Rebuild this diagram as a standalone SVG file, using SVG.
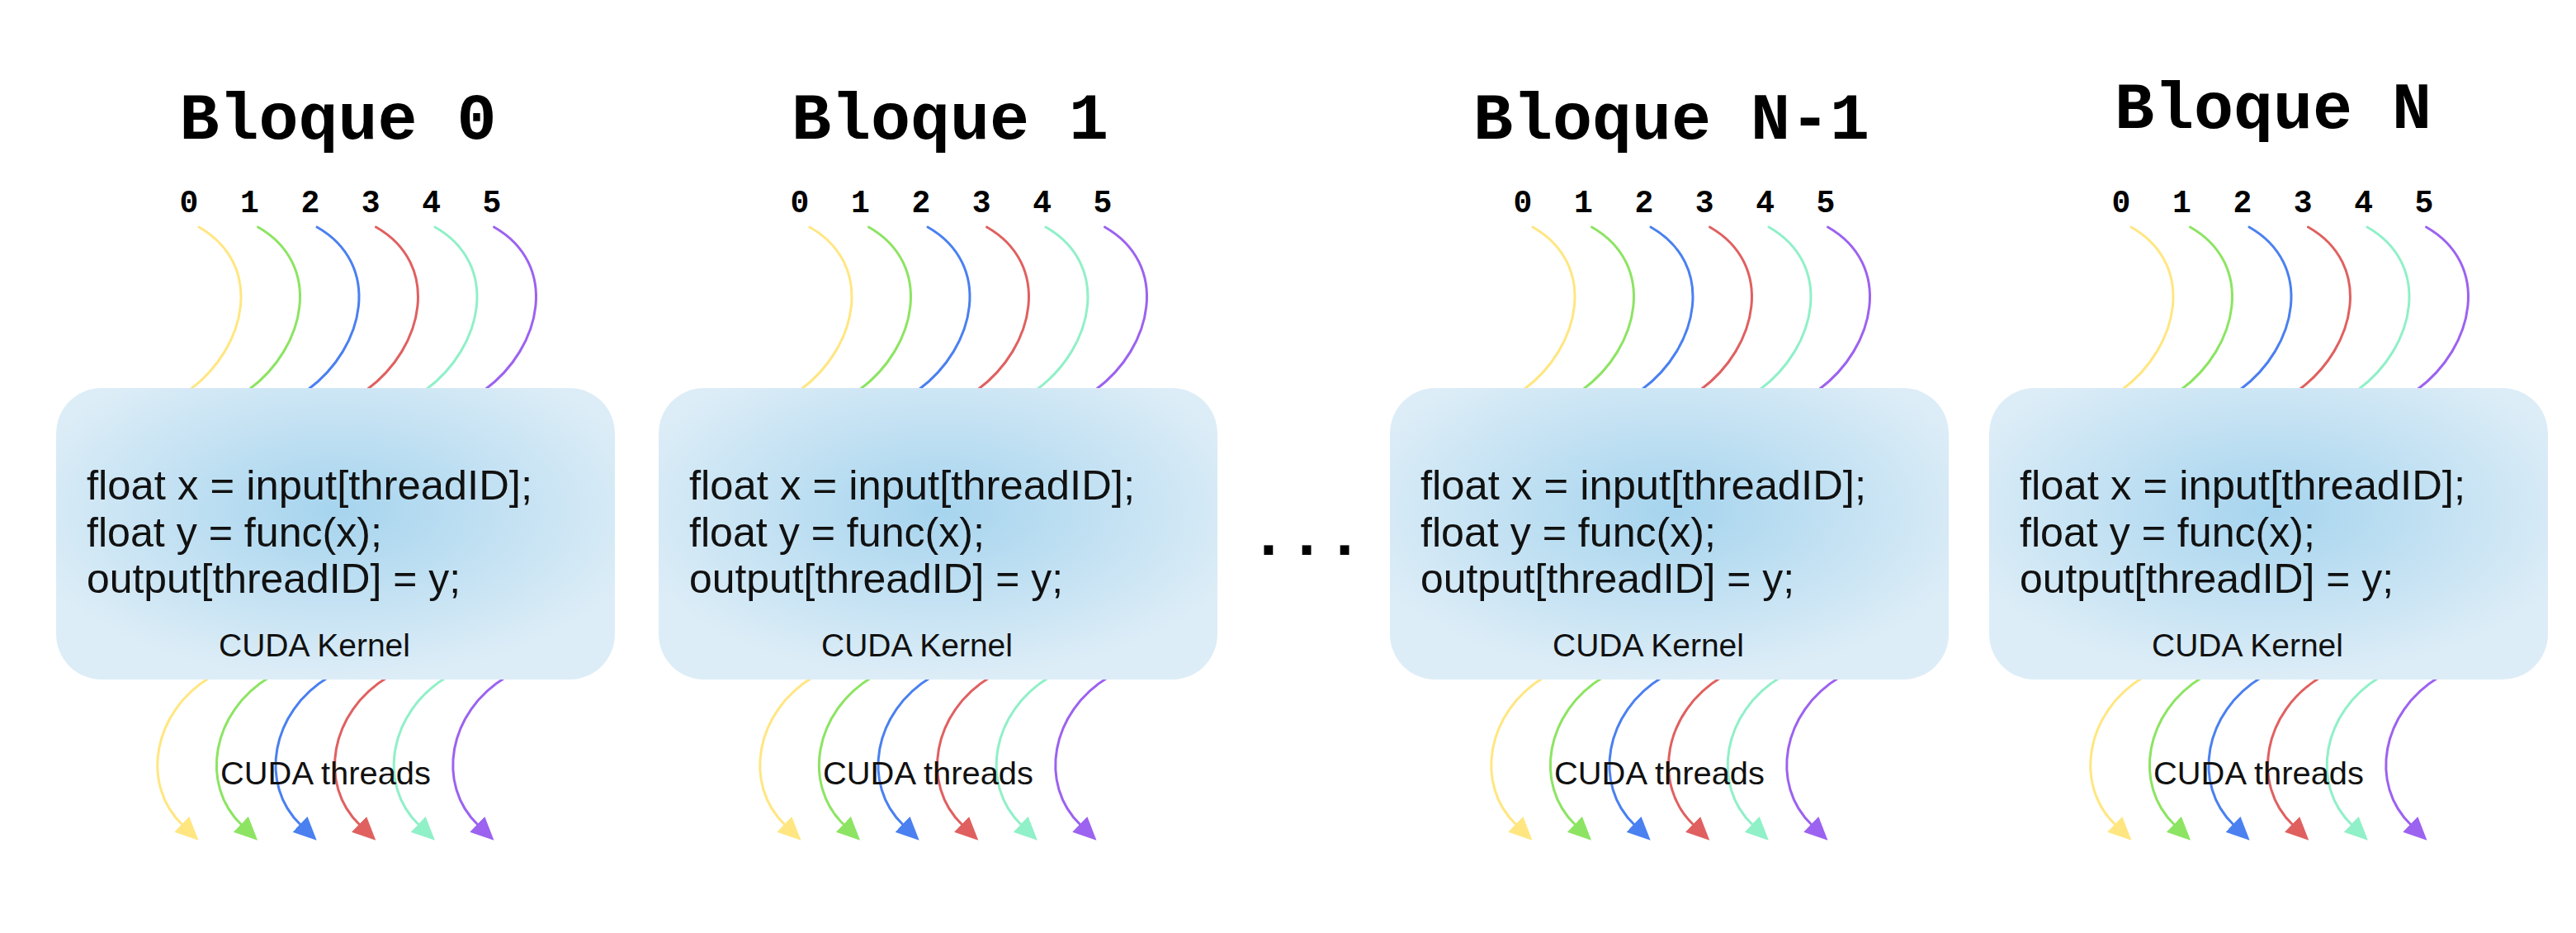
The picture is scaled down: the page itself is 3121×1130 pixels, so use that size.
<svg xmlns="http://www.w3.org/2000/svg" width="3121" height="1130" viewBox="0 0 3121 1130">
<defs>
<style>
.title{font-family:"Liberation Mono","Courier New",monospace;font-weight:bold;font-size:80px;fill:#000;text-anchor:middle}
.num{font-family:"Liberation Mono","Courier New",monospace;font-weight:bold;font-size:38px;fill:#000;text-anchor:middle}
.code{font-family:"Liberation Sans",Arial,sans-serif;font-size:50px;fill:#111}
.lbl{font-family:"Liberation Sans",Arial,sans-serif;font-size:39px;fill:#111;text-anchor:middle}
.box{fill:url(#boxGrad)}
.th{fill:none;stroke-width:3;stroke-linecap:round}
.c0{stroke:#ffe680}.c1{stroke:#8ce462}.c2{stroke:#4a80f0}.c3{stroke:#e06060}.c4{stroke:#90f0c8}.c5{stroke:#9c62f0}
.a0{marker-end:url(#m0)}.a1{marker-end:url(#m1)}.a2{marker-end:url(#m2)}.a3{marker-end:url(#m3)}.a4{marker-end:url(#m4)}.a5{marker-end:url(#m5)}
</style>
<radialGradient id="boxGrad" cx="0.5" cy="0.42" r="0.58">
<stop offset="0" stop-color="#a6d4ee"/>
<stop offset="1" stop-color="#ddedf7"/>
</radialGradient>
<marker id="m0" markerUnits="userSpaceOnUse" viewBox="0 0 30 28" markerWidth="30" markerHeight="28" refX="1" refY="13" orient="auto"><path d="M0,0 L28,13 L0,26 Z" fill="#ffe680"/></marker>
<marker id="m1" markerUnits="userSpaceOnUse" viewBox="0 0 30 28" markerWidth="30" markerHeight="28" refX="1" refY="13" orient="auto"><path d="M0,0 L28,13 L0,26 Z" fill="#8ce462"/></marker>
<marker id="m2" markerUnits="userSpaceOnUse" viewBox="0 0 30 28" markerWidth="30" markerHeight="28" refX="1" refY="13" orient="auto"><path d="M0,0 L28,13 L0,26 Z" fill="#4a80f0"/></marker>
<marker id="m3" markerUnits="userSpaceOnUse" viewBox="0 0 30 28" markerWidth="30" markerHeight="28" refX="1" refY="13" orient="auto"><path d="M0,0 L28,13 L0,26 Z" fill="#e06060"/></marker>
<marker id="m4" markerUnits="userSpaceOnUse" viewBox="0 0 30 28" markerWidth="30" markerHeight="28" refX="1" refY="13" orient="auto"><path d="M0,0 L28,13 L0,26 Z" fill="#90f0c8"/></marker>
<marker id="m5" markerUnits="userSpaceOnUse" viewBox="0 0 30 28" markerWidth="30" markerHeight="28" refX="1" refY="13" orient="auto"><path d="M0,0 L28,13 L0,26 Z" fill="#9c62f0"/></marker>
</defs>
<rect width="3121" height="1130" fill="#fff"/>

<g id="connectors">
  <g id="threads-in-0">
    <path class="th c0" d="M241,275 C320,320 300,420 230,472"/>
    <path class="th c1" transform="translate(71.5,0)" d="M241,275 C320,320 300,420 230,472"/>
    <path class="th c2" transform="translate(143,0)" d="M241,275 C320,320 300,420 230,472"/>
    <path class="th c3" transform="translate(214.5,0)" d="M241,275 C320,320 300,420 230,472"/>
    <path class="th c4" transform="translate(286,0)" d="M241,275 C320,320 300,420 230,472"/>
    <path class="th c5" transform="translate(357.5,0)" d="M241,275 C320,320 300,420 230,472"/>
  </g>
  <g id="threads-out-0">
    <path class="th c0 a0" d="M255,820 C185,862 170,950 221,999"/>
    <path class="th c1 a1" transform="translate(71.6,0)" d="M255,820 C185,862 170,950 221,999"/>
    <path class="th c2 a2" transform="translate(143.2,0)" d="M255,820 C185,862 170,950 221,999"/>
    <path class="th c3 a3" transform="translate(214.8,0)" d="M255,820 C185,862 170,950 221,999"/>
    <path class="th c4 a4" transform="translate(286.4,0)" d="M255,820 C185,862 170,950 221,999"/>
    <path class="th c5 a5" transform="translate(358,0)" d="M255,820 C185,862 170,950 221,999"/>
  </g>
  <g id="threads-in-1" transform="translate(740,0)">
    <path class="th c0" d="M241,275 C320,320 300,420 230,472"/>
    <path class="th c1" transform="translate(71.5,0)" d="M241,275 C320,320 300,420 230,472"/>
    <path class="th c2" transform="translate(143,0)" d="M241,275 C320,320 300,420 230,472"/>
    <path class="th c3" transform="translate(214.5,0)" d="M241,275 C320,320 300,420 230,472"/>
    <path class="th c4" transform="translate(286,0)" d="M241,275 C320,320 300,420 230,472"/>
    <path class="th c5" transform="translate(357.5,0)" d="M241,275 C320,320 300,420 230,472"/>
  </g>
  <g id="threads-out-1" transform="translate(730,0)">
    <path class="th c0 a0" d="M255,820 C185,862 170,950 221,999"/>
    <path class="th c1 a1" transform="translate(71.6,0)" d="M255,820 C185,862 170,950 221,999"/>
    <path class="th c2 a2" transform="translate(143.2,0)" d="M255,820 C185,862 170,950 221,999"/>
    <path class="th c3 a3" transform="translate(214.8,0)" d="M255,820 C185,862 170,950 221,999"/>
    <path class="th c4 a4" transform="translate(286.4,0)" d="M255,820 C185,862 170,950 221,999"/>
    <path class="th c5 a5" transform="translate(358,0)" d="M255,820 C185,862 170,950 221,999"/>
  </g>
  <g id="threads-in-2" transform="translate(1616,0)">
    <path class="th c0" d="M241,275 C320,320 300,420 230,472"/>
    <path class="th c1" transform="translate(71.5,0)" d="M241,275 C320,320 300,420 230,472"/>
    <path class="th c2" transform="translate(143,0)" d="M241,275 C320,320 300,420 230,472"/>
    <path class="th c3" transform="translate(214.5,0)" d="M241,275 C320,320 300,420 230,472"/>
    <path class="th c4" transform="translate(286,0)" d="M241,275 C320,320 300,420 230,472"/>
    <path class="th c5" transform="translate(357.5,0)" d="M241,275 C320,320 300,420 230,472"/>
  </g>
  <g id="threads-out-2" transform="translate(1616,0)">
    <path class="th c0 a0" d="M255,820 C185,862 170,950 221,999"/>
    <path class="th c1 a1" transform="translate(71.6,0)" d="M255,820 C185,862 170,950 221,999"/>
    <path class="th c2 a2" transform="translate(143.2,0)" d="M255,820 C185,862 170,950 221,999"/>
    <path class="th c3 a3" transform="translate(214.8,0)" d="M255,820 C185,862 170,950 221,999"/>
    <path class="th c4 a4" transform="translate(286.4,0)" d="M255,820 C185,862 170,950 221,999"/>
    <path class="th c5 a5" transform="translate(358,0)" d="M255,820 C185,862 170,950 221,999"/>
  </g>
  <g id="threads-in-3" transform="translate(2341,0)">
    <path class="th c0" d="M241,275 C320,320 300,420 230,472"/>
    <path class="th c1" transform="translate(71.5,0)" d="M241,275 C320,320 300,420 230,472"/>
    <path class="th c2" transform="translate(143,0)" d="M241,275 C320,320 300,420 230,472"/>
    <path class="th c3" transform="translate(214.5,0)" d="M241,275 C320,320 300,420 230,472"/>
    <path class="th c4" transform="translate(286,0)" d="M241,275 C320,320 300,420 230,472"/>
    <path class="th c5" transform="translate(357.5,0)" d="M241,275 C320,320 300,420 230,472"/>
  </g>
  <g id="threads-out-3" transform="translate(2342,0)">
    <path class="th c0 a0" d="M255,820 C185,862 170,950 221,999"/>
    <path class="th c1 a1" transform="translate(71.6,0)" d="M255,820 C185,862 170,950 221,999"/>
    <path class="th c2 a2" transform="translate(143.2,0)" d="M255,820 C185,862 170,950 221,999"/>
    <path class="th c3 a3" transform="translate(214.8,0)" d="M255,820 C185,862 170,950 221,999"/>
    <path class="th c4 a4" transform="translate(286.4,0)" d="M255,820 C185,862 170,950 221,999"/>
    <path class="th c5 a5" transform="translate(358,0)" d="M255,820 C185,862 170,950 221,999"/>
  </g>
</g>

<g id="bloque-0">
  <text class="title" x="409.5" y="168">Bloque 0</text>
  <text class="num" y="257"><tspan x="229">0</tspan><tspan x="302.4">1</tspan><tspan x="375.8">2</tspan><tspan x="449.2">3</tspan><tspan x="522.6">4</tspan><tspan x="596">5</tspan></text>
  <rect class="box" x="68" y="470" width="677" height="353" rx="55"/>
  <text class="code" x="105" y="605" textLength="540" lengthAdjust="spacingAndGlyphs">float x = input[threadID];</text>
  <text class="code" x="105" y="661.5" textLength="358" lengthAdjust="spacingAndGlyphs">float y = func(x);</text>
  <text class="code" x="105" y="718" textLength="453" lengthAdjust="spacingAndGlyphs">output[threadID] = y;</text>
  <text class="lbl" x="381" y="795" textLength="232" lengthAdjust="spacingAndGlyphs">CUDA Kernel</text>
  <text class="lbl" x="394.5" y="950" textLength="255" lengthAdjust="spacingAndGlyphs">CUDA threads</text>
</g>

<g id="bloque-1" transform="translate(730,0)">
  <text class="title" x="421" y="168">Bloque 1</text>
  <text class="num" y="257"><tspan x="239">0</tspan><tspan x="312.4">1</tspan><tspan x="385.8">2</tspan><tspan x="459.2">3</tspan><tspan x="532.6">4</tspan><tspan x="606">5</tspan></text>
  <rect class="box" x="68" y="470" width="677" height="353" rx="55"/>
  <text class="code" x="105" y="605" textLength="540" lengthAdjust="spacingAndGlyphs">float x = input[threadID];</text>
  <text class="code" x="105" y="661.5" textLength="358" lengthAdjust="spacingAndGlyphs">float y = func(x);</text>
  <text class="code" x="105" y="718" textLength="453" lengthAdjust="spacingAndGlyphs">output[threadID] = y;</text>
  <text class="lbl" x="381" y="795" textLength="232" lengthAdjust="spacingAndGlyphs">CUDA Kernel</text>
  <text class="lbl" x="394.5" y="950" textLength="255" lengthAdjust="spacingAndGlyphs">CUDA threads</text>
</g>

<g id="puntos">
  <text class="title" x="1583" y="672" style="font-size:77px">...</text>
</g>

<g id="bloque-n-1" transform="translate(1616,0)">
  <text class="title" x="409" y="168">Bloque N-1</text>
  <text class="num" y="257"><tspan x="229">0</tspan><tspan x="302.4">1</tspan><tspan x="375.8">2</tspan><tspan x="449.2">3</tspan><tspan x="522.6">4</tspan><tspan x="596">5</tspan></text>
  <rect class="box" x="68" y="470" width="677" height="353" rx="55"/>
  <text class="code" x="105" y="605" textLength="540" lengthAdjust="spacingAndGlyphs">float x = input[threadID];</text>
  <text class="code" x="105" y="661.5" textLength="358" lengthAdjust="spacingAndGlyphs">float y = func(x);</text>
  <text class="code" x="105" y="718" textLength="453" lengthAdjust="spacingAndGlyphs">output[threadID] = y;</text>
  <text class="lbl" x="381" y="795" textLength="232" lengthAdjust="spacingAndGlyphs">CUDA Kernel</text>
  <text class="lbl" x="394.5" y="950" textLength="255" lengthAdjust="spacingAndGlyphs">CUDA threads</text>
</g>

<g id="bloque-n" transform="translate(2342,0)">
  <text class="title" x="412" y="155">Bloque N</text>
  <text class="num" y="257"><tspan x="228">0</tspan><tspan x="301.4">1</tspan><tspan x="374.8">2</tspan><tspan x="448.2">3</tspan><tspan x="521.6">4</tspan><tspan x="595">5</tspan></text>
  <rect class="box" x="68" y="470" width="677" height="353" rx="55"/>
  <text class="code" x="105" y="605" textLength="540" lengthAdjust="spacingAndGlyphs">float x = input[threadID];</text>
  <text class="code" x="105" y="661.5" textLength="358" lengthAdjust="spacingAndGlyphs">float y = func(x);</text>
  <text class="code" x="105" y="718" textLength="453" lengthAdjust="spacingAndGlyphs">output[threadID] = y;</text>
  <text class="lbl" x="381" y="795" textLength="232" lengthAdjust="spacingAndGlyphs">CUDA Kernel</text>
  <text class="lbl" x="394.5" y="950" textLength="255" lengthAdjust="spacingAndGlyphs">CUDA threads</text>
</g>
</svg>
